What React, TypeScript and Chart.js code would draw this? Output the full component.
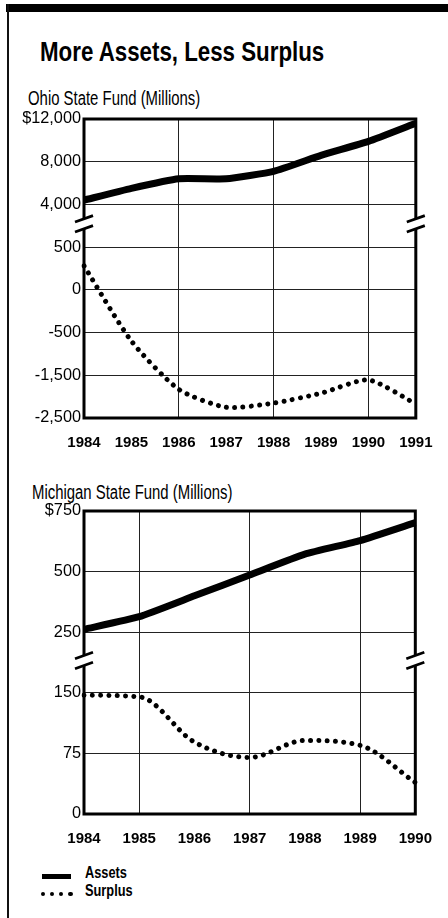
import React, { useEffect, useRef } from 'react';
import { Chart, registerables } from 'chart.js';

Chart.register(...registerables);

// ---------------- Data ----------------
const ohioYears = ['1984', '1985', '1986', '1987', '1988', '1989', '1990', '1991'];
const ohioAssets = [4400, 5500, 6400, 6400, 7100, 8600, 9900, 11600];
const ohioSurplus = [280, -700, -1830, -2250, -2150, -1920, -1610, -2170];
const ohioTickValues = [-2500, -1500, -500, 0, 500, 4000, 8000, 12000];
const ohioTickLabels = ['-2,500', '-1,500', '-500', '0', '500', '4,000', '8,000', '$12,000'];
const ohioGridYears = ['1986', '1988', '1990'];
const ohioBreakAfter = 500;

const michYears = ['1984', '1985', '1986', '1987', '1988', '1989', '1990'];
const michAssets = [262, 314, 400, 486, 572, 628, 702];
const michSurplus = [147, 145, 89, 70, 91, 85, 39];
const michTickValues = [0, 75, 150, 250, 500, 750];
const michTickLabels = ['0', '75', '150', '250', '500', '$750'];
const michGridYears = ['1985', '1987', '1989'];
const michBreakAfter = 150;

const title = 'More Assets, Less Surplus';
const ohioTitle = 'Ohio State Fund (Millions)';
const michTitle = 'Michigan State Fund (Millions)';
const legendAssets = 'Assets';
const legendSurplus = 'Surplus';

// piecewise mapping of a value onto the evenly spaced tick positions of the broken axis
function toPos(v: number, ticks: number[]): number {
  for (let i = 0; i < ticks.length - 1; i++) {
    if (v <= ticks[i + 1] || i === ticks.length - 2) {
      return i + (v - ticks[i]) / (ticks[i + 1] - ticks[i]);
    }
  }
  return 0;
}

function fontAvailable(name: string): boolean {
  const ctx = document.createElement('canvas').getContext('2d');
  if (!ctx) return false;
  const s = 'abcdefghijklmnopqrstuvwxyz0123456789';
  ctx.font = '40px monospace';
  const a = ctx.measureText(s).width;
  ctx.font = `40px "${name}", monospace`;
  const b = ctx.measureText(s).width;
  return Math.abs(a - b) > 0.5;
}

const framePlugin = {
  id: 'frame',
  afterDatasetsDraw(chart: any, _args: any, opts: any) {
    const { ctx, chartArea: a, scales } = chart;
    const yb = scales.y.getPixelForValue(opts.breakPos) - 2;
    const gap = 5;
    ctx.save();
    ctx.strokeStyle = '#000';
    ctx.lineWidth = 3;
    ctx.lineCap = 'butt';
    ctx.beginPath();
    ctx.moveTo(a.left - 1.5, a.top);
    ctx.lineTo(a.right + 1.5, a.top);
    ctx.moveTo(a.left - 1.5, a.bottom);
    ctx.lineTo(a.right + 1.5, a.bottom);
    for (const x of [a.left, a.right]) {
      ctx.moveTo(x, a.top);
      ctx.lineTo(x, yb - gap);
      ctx.moveTo(x, yb + gap);
      ctx.lineTo(x, a.bottom);
    }
    ctx.stroke();
    ctx.lineWidth = 2.8;
    ctx.beginPath();
    for (const x of [a.left, a.right]) {
      for (const d of [-gap, gap]) {
        ctx.moveTo(x - 9, yb + d + 3.2);
        ctx.lineTo(x + 9, yb + d - 3.2);
      }
    }
    ctx.stroke();
    ctx.restore();
  },
};

function makeConfig(p: any): any {
  const { years, assets, surplus, tickVals, tickLabels, gridYears, breakAfter, padTop, axisH, yearCenter, fonts, surplusMode } = p;
  const breakPos = tickVals.indexOf(breakAfter) + 0.5;
  const yearPad = yearCenter - fonts.year.size * 0.6;
  return {
    type: 'line',
    data: {
      labels: years,
      datasets: [
        {
          label: legendAssets,
          data: assets.map((v: number) => toPos(v, tickVals)),
          borderColor: '#000',
          borderWidth: 7,
          tension: 0.15,
          pointRadius: 0,
          borderJoinStyle: 'round',
          borderCapStyle: 'butt',
          fill: false,
        },
        {
          label: legendSurplus,
          data: surplus.map((v: number) => toPos(v, tickVals)),
          borderColor: '#000',
          borderWidth: 5,
          borderDash: [0.01, 8.3],
          borderCapStyle: 'round',
          tension: 0.22,
          cubicInterpolationMode: surplusMode,
          pointRadius: 0,
          fill: false,
        },
      ],
    },
    options: {
      responsive: false,
      animation: false,
      devicePixelRatio: 1,
      events: [],
      layout: { padding: { top: padTop, right: 30, left: 0, bottom: 0 } },
      plugins: {
        legend: { display: false },
        tooltip: { enabled: false },
        frame: { breakPos },
      },
      scales: {
        x: {
          type: 'category',
          offset: false,
          grid: {
            color: (c: any) => (gridYears.includes(years[c.index]) ? '#222' : 'rgba(0,0,0,0)'),
            lineWidth: 1,
            drawTicks: false,
            offset: false,
          },
          border: { display: false },
          ticks: {
            color: '#000',
            font: fonts.year,
            padding: yearPad,
            autoSkip: false,
            maxRotation: 0,
            minRotation: 0,
          },
          afterFit: (s: any) => {
            s.height = axisH;
          },
        },
        y: {
          type: 'linear',
          min: 0,
          max: tickVals.length - 1,
          grid: {
            color: (c: any) =>
              c.tick && (c.tick.value === 0 || c.tick.value === tickVals.length - 1) ? 'rgba(0,0,0,0)' : '#222',
            lineWidth: 1,
            drawTicks: false,
          },
          border: { display: false },
          ticks: {
            stepSize: 1,
            color: '#000',
            font: fonts.tick,
            padding: 3,
            autoSkip: false,
            callback: (v: any) => tickLabels[v] ?? '',
          },
          afterFit: (s: any) => {
            s.width = 84;
          },
        },
      },
    },
    plugins: [framePlugin],
  };
}

const htmlFont = '"Liberation Sans", Arial, sans-serif';

function Txt(props: { text: string; left: number; baseline: number; size: number; bold?: boolean; sx: number }) {
  const { text, left, baseline, size, bold, sx } = props;
  return (
    <div
      style={{
        position: 'absolute',
        left,
        top: baseline - 0.8465 * size,
        fontFamily: htmlFont,
        fontSize: size,
        fontWeight: bold ? 700 : 400,
        lineHeight: `${size}px`,
        whiteSpace: 'nowrap',
        color: '#000',
        transform: `scaleX(${sx})`,
        transformOrigin: '0 0',
      }}
    >
      {text}
    </div>
  );
}

export default function App() {
  const ohioRef = useRef<HTMLCanvasElement>(null);
  const michRef = useRef<HTMLCanvasElement>(null);

  useEffect(() => {
    const narrow = fontAvailable('Liberation Sans Narrow');
    const fonts = narrow
      ? {
          tick: { family: '"Liberation Sans Narrow"', size: 18.5, weight: 'normal' },
          year: { family: '"Liberation Sans Narrow"', size: 17, weight: 'bold' },
        }
      : {
          tick: { family: '"Liberation Sans"', size: 16.3, weight: 'normal' },
          year: { family: '"Liberation Sans"', size: 15, weight: 'bold' },
        };
    const c1 = new Chart(
      ohioRef.current as HTMLCanvasElement,
      makeConfig({
        years: ohioYears,
        assets: ohioAssets,
        surplus: ohioSurplus,
        tickVals: ohioTickValues,
        tickLabels: ohioTickLabels,
        gridYears: ohioGridYears,
        breakAfter: ohioBreakAfter,
        padTop: 19,
        axisH: 42,
        yearCenter: 24.5,
        fonts,
        surplusMode: 'default',
      })
    );
    const c2 = new Chart(
      michRef.current as HTMLCanvasElement,
      makeConfig({
        years: michYears,
        assets: michAssets,
        surplus: michSurplus,
        tickVals: michTickValues,
        tickLabels: michTickLabels,
        gridYears: michGridYears,
        breakAfter: michBreakAfter,
        padTop: 41,
        axisH: 46,
        yearCenter: 25,
        fonts,
        surplusMode: 'monotone',
      })
    );
    return () => {
      c1.destroy();
      c2.destroy();
    };
  }, []);

  return (
    <div style={{ position: 'absolute', left: 0, top: 0, width: 448, height: 918, overflow: 'hidden', background: '#fff' }}>
      <div style={{ position: 'absolute', left: 6, top: 4, width: 442, height: 7.5, background: '#000' }} />
      <div style={{ position: 'absolute', left: 7, top: 4, width: 2, height: 914, background: '#111' }} />
      <Txt text={title} left={40} baseline={62} size={27} bold sx={0.826} />
      <Txt text={ohioTitle} left={28} baseline={104.5} size={20} sx={0.745} />
      <canvas ref={ohioRef} width={448} height={360} style={{ position: 'absolute', left: 0, top: 100, width: 448, height: 360 }} />
      <Txt text={michTitle} left={32} baseline={499} size={20} sx={0.745} />
      <canvas ref={michRef} width={448} height={390} style={{ position: 'absolute', left: 0, top: 470, width: 448, height: 390 }} />
      {/* legend */}
      <div style={{ position: 'absolute', left: 42, top: 874, width: 29, height: 4.8, background: '#000' }} />
      {[0, 1, 2, 3].map((i) => (
        <div
          key={i}
          style={{ position: 'absolute', left: 40.5 + i * 9.2, top: 891.8, width: 4.5, height: 4.5, borderRadius: '50%', background: '#000' }}
        />
      ))}
      <Txt text={legendAssets} left={85} baseline={878} size={17} bold sx={0.753} />
      <Txt text={legendSurplus} left={85} baseline={896} size={17} bold sx={0.753} />
    </div>
  );
}
